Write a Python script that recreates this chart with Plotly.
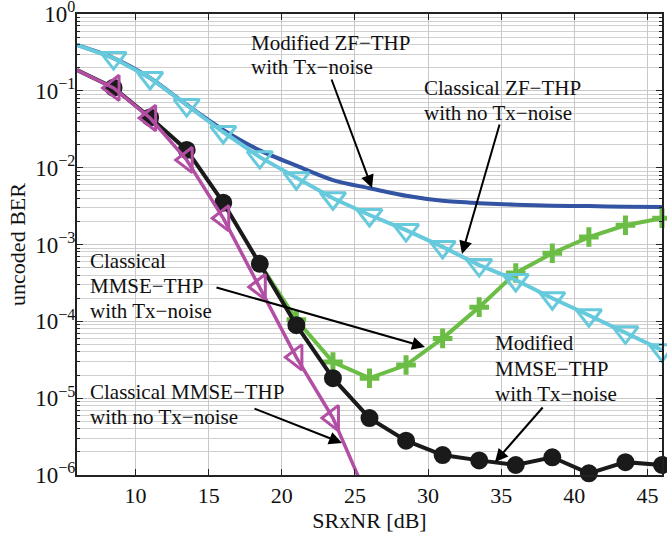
import plotly.graph_objects as go

# ---------------- data ----------------
snr_db = [6, 8.5, 11, 13.5, 16, 18.5, 21, 23.5, 26, 28.5, 31, 33.5, 36, 38.5, 41, 43.5, 46]

ber_mod_zf_txnoise = [0.395, 0.267, 0.147, 0.066, 0.031, 0.0168, 0.0106, 0.0069, 0.0054, 0.0043,
                      0.0037, 0.00345, 0.0033, 0.0032, 0.00316, 0.0031, 0.00307]
ber_cls_zf_notx = [0.395, 0.267, 0.147, 0.0653, 0.0291, 0.0137, 0.0073, 0.0040, 0.00242, 0.00154,
                   0.00093, 0.00054, 0.000345, 0.0002, 0.00012, 7.2e-5, 4.2e-5]
ber_cls_mmse_txnoise = [0.187, 0.11, 0.045, 0.017, 0.0035, 5.6e-4, 1.05e-4, 2.95e-5, 1.82e-5, 2.7e-5,
                        6.0e-5, 1.53e-4, 4.26e-4, 7.7e-4, 1.25e-3, 1.78e-3, 2.2e-3]
ber_mod_mmse_txnoise = [0.187, 0.11, 0.045, 0.017, 0.0035, 5.6e-4, 8.9e-5, 1.82e-5, 5.5e-6, 2.8e-6,
                        1.82e-6, 1.55e-6, 1.35e-6, 1.7e-6, 1.05e-6, 1.47e-6, 1.35e-6]
snr_db_mmse_notx = [6, 8.5, 11, 13.5, 16, 18.5, 21, 23.5, 26]
ber_cls_mmse_notx = [0.187, 0.109, 0.0443, 0.0126, 0.0022, 2.8e-4, 3.4e-5, 5.5e-6, 4.4e-7]

x_ticks = [10, 15, 20, 25, 30, 35, 40, 45]
y_ticks = [1e-6, 1e-5, 1e-4, 1e-3, 1e-2, 1e-1, 1e0]
y_tick_labels = ["10<sup>−6</sup>", "10<sup>−5</sup>", "10<sup>−4</sup>", "10<sup>−3</sup>",
                 "10<sup>−2</sup>", "10<sup>−1</sup>", "10<sup>0</sup>"]

# ---------------- styles ----------------
FONT = "Liberation Serif"
C_BLUE = "#3353a3"
C_CYAN = "#66c9dc"
C_GREEN = "#6cbd45"
C_BLACK = "#1a1a1a"
C_MAG = "#b24ea3"

fig = go.Figure()

def add_series(x, y, color, lw, symbol=None, msize=0, mline=0, mfill=None, clip=False):
    fig.add_trace(go.Scatter(x=x, y=y, mode="lines", line=dict(color=color, width=lw),
                             showlegend=False, hoverinfo="skip"))
    if symbol:
        fig.add_trace(go.Scatter(x=x[1:], y=y[1:], mode="markers", cliponaxis=clip,
                                 marker=dict(symbol=symbol, size=msize,
                                             color=mfill if mfill else color,
                                             line=dict(color=color, width=mline)),
                                 showlegend=False, hoverinfo="skip"))

fig.add_trace(go.Scatter(x=snr_db, y=ber_mod_zf_txnoise, mode="lines",
                         line=dict(color=C_BLUE, width=4, shape="spline", smoothing=0.8),
                         showlegend=False, hoverinfo="skip"))
add_series(snr_db[5:], ber_cls_mmse_txnoise[5:], C_GREEN, 4, "cross-thin", 14, 5)
add_series(snr_db, ber_mod_mmse_txnoise, C_BLACK, 4, "circle", 16, 2, C_BLACK)
add_series(snr_db, ber_cls_zf_notx, C_CYAN, 4, "triangle-down-open", 22, 3)
add_series(snr_db_mmse_notx, ber_cls_mmse_notx, C_MAG, 3.5, "triangle-left-open", 22, 3, clip=True)

# ---------------- annotations ----------------
L, R, T, B = 77, 662, 14, 475
W, H = 667, 533

def px(xp):
    return (xp - L) / (R - L)

def py(yp):
    return (B - yp) / (B - T)

def label(lines, xleft, ytop_center, step):
    for i, s in enumerate(lines):
        fig.add_annotation(x=px(xleft), y=py(ytop_center + i * step), xref="paper", yref="paper",
                           text=s, showarrow=False, xanchor="left", yanchor="middle",
                           font=dict(family=FONT, size=21, color="#111"))

def arrow(head, tail):
    fig.add_annotation(x=px(head[0]), y=py(head[1]), xref="paper", yref="paper",
                       ax=tail[0] - head[0], ay=tail[1] - head[1], text="",
                       showarrow=True, arrowhead=2, arrowsize=1.3, arrowwidth=2,
                       arrowcolor="#000")

label(["Modified ZF−THP", "with Tx−noise"], 249, 43, 24)
label(["Classical ZF−THP", "with no Tx−noise"], 422, 88, 25)
label(["Classical", "MMSE−THP", "with Tx−noise"], 88, 261, 25)
label(["Classical MMSE−THP", "with no Tx−noise"], 88, 392, 25)
label(["Modified", "MMSE−THP", "with Tx−noise"], 493, 343, 25.5)

arrow((372, 188), (331, 78))
arrow((462, 254), (500, 123))
arrow((425, 347), (215, 287))
arrow((342, 443), (253, 408))
arrow((495, 462), (544, 406))

minor_vals = [k * 10.0 ** e for e in range(-6, 0) for k in range(2, 10)]

fig.update_layout(
    width=W, height=H,
    margin=dict(l=L, r=W - R, t=T, b=H - B, autoexpand=False),
    paper_bgcolor="white", plot_bgcolor="white",
    font=dict(family=FONT, size=22, color="#111"),
    xaxis=dict(range=[6, 46], tickvals=x_ticks, showgrid=True, gridcolor="#c8c8c8", gridwidth=1,
               ticks="inside", ticklen=6, tickcolor="#222", mirror="allticks", showline=True,
               linecolor="#222", linewidth=2, zeroline=False, automargin=False,
               ticklabeloverflow="allow",
               tickfont=dict(family=FONT, size=22),
               title=dict(text="SRxNR [dB]", font=dict(family=FONT, size=22), standoff=2)),
    yaxis=dict(type="log", range=[-6, 0], tickvals=y_ticks, ticktext=y_tick_labels,
               showgrid=True, gridcolor="#c8c8c8", gridwidth=1,
               ticks="inside", ticklen=6, tickcolor="#222", mirror="allticks", showline=True,
               linecolor="#222", linewidth=2, zeroline=False, automargin=False,
               ticklabeloverflow="allow", ticklabelstandoff=-5,
               tickfont=dict(family=FONT, size=23),
               minor=dict(tickvals=minor_vals, ticks="inside", ticklen=3, tickcolor="#222",
                          showgrid=True, gridcolor="#d0d0d0", gridwidth=1),
               title=dict(text="uncoded BER", font=dict(family=FONT, size=22), standoff=4)),
)

fig.write_html("out.html", config={"displayModeBar": False},
               post_script="document.body.style.margin='0';document.body.style.padding='0';")
